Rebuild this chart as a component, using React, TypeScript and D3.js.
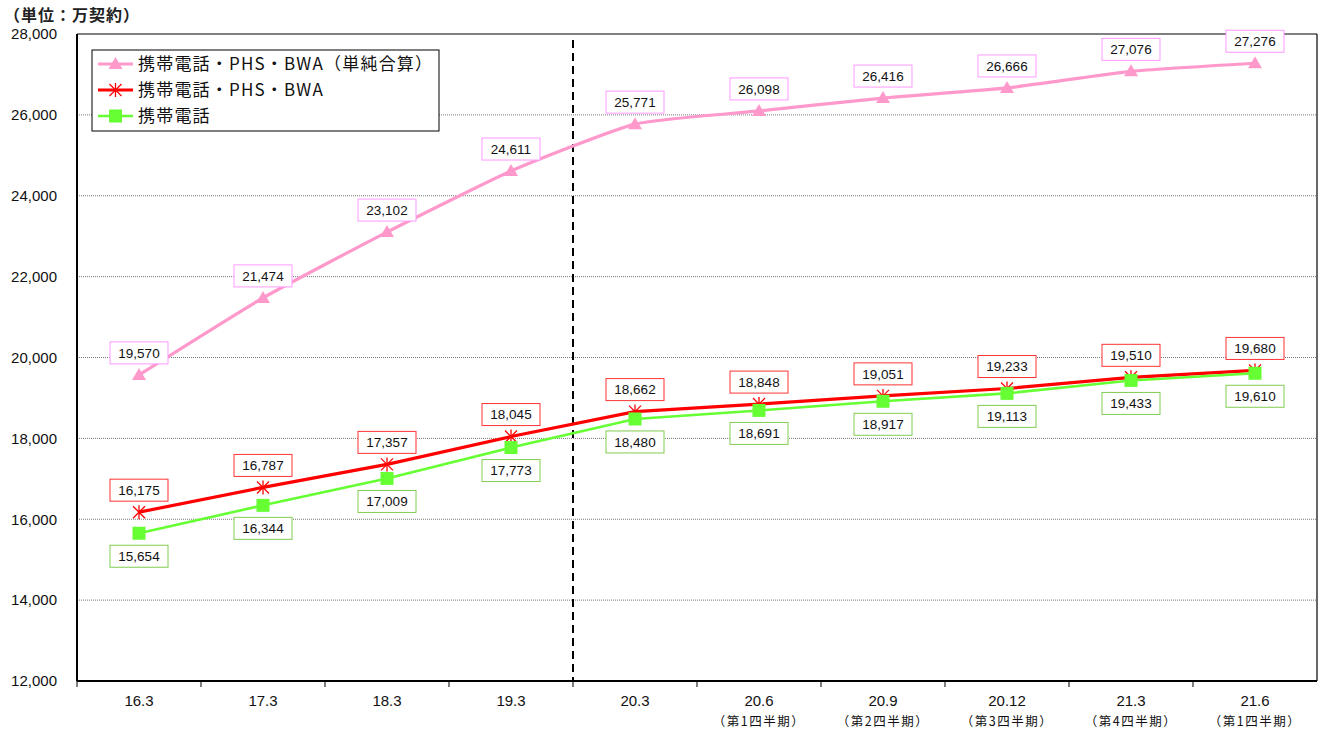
import React from 'react';
import * as d3 from 'd3';

const categories = ['16.3', '17.3', '18.3', '19.3', '20.3', '20.6', '20.9', '20.12', '21.3', '21.6'];
const subLabels = ['', '', '', '', '', '（第1四半期）', '（第2四半期）', '（第3四半期）', '（第4四半期）', '（第1四半期）'];
const simpleSum = [19570, 21474, 23102, 24611, 25771, 26098, 26416, 26666, 27076, 27276];
const mobilePhsBwa = [16175, 16787, 17357, 18045, 18662, 18848, 19051, 19233, 19510, 19680];
const mobile = [15654, 16344, 17009, 17773, 18480, 18691, 18917, 19113, 19433, 19610];
const yTicks = [12000, 14000, 16000, 18000, 20000, 22000, 24000, 26000, 28000];
const seriesNames = ['携帯電話・PHS・BWA（単純合算）', '携帯電話・PHS・BWA', '携帯電話'];

const FONT = '"Liberation Sans", Arial, "Noto Sans CJK JP", sans-serif';
const JP = '"Noto Sans CJK JP", "Liberation Sans", sans-serif';

const App = () => {
    const width = 1320
    const height = 731
    const margins = {top: 34, right: 3, bottom: 50, left: 77}
    const innerWidth = width - margins.left - margins.right
    const innerHeight = height - margins.top - margins.bottom

    const xScale = d3.scaleBand().domain(categories).range([0, innerWidth]).padding(0)
    const cx = (c: string) => (xScale(c) as number) + xScale.bandwidth() / 2
    const yScale = d3.scaleLinear().domain([12000, 28000]).range([innerHeight, 0])
    const fmt = d3.format(',')

    const smooth = d3.line<number>().x((d, i) => cx(categories[i])).y(d => yScale(d)).curve(d3.curveCardinal.tension(0.5))
    const straight = d3.line<number>().x((d, i) => cx(categories[i])).y(d => yScale(d))

    const series = [
        {name: seriesNames[0], data: simpleSum, color: '#ff99cc', border: '#ff99ff', path: smooth, width: 3.2, marker: 'tri', labelDy: -22},
        {name: seriesNames[1], data: mobilePhsBwa, color: '#ff0000', border: '#ff3333', path: straight, width: 3.2, marker: 'star', labelDy: -22},
        {name: seriesNames[2], data: mobile, color: '#66ff33', border: '#80cc50', path: straight, width: 2.6, marker: 'sq', labelDy: 23},
    ]

    const marker = (type: string, x: number, y: number, color: string, key: any) => {
        if (type === 'tri') {
            return <path key={key} d={`M${x},${y - 7}L${x + 7},${y + 5}L${x - 7},${y + 5}Z`} fill={color}/>
        }
        if (type === 'sq') {
            return <rect key={key} x={x - 6.5} y={y - 6.5} width={13} height={13} fill={color}/>
        }
        const r = 6
        return (
            <g key={key} stroke={color} strokeWidth={1.3}>
                <line x1={x - r} y1={y - r} x2={x + r} y2={y + r}/>
                <line x1={x - r} y1={y + r} x2={x + r} y2={y - r}/>
                <line x1={x} y1={y - r - 1} x2={x} y2={y + r + 1}/>
            </g>
        )
    }

    const splitX = xScale('20.3') as number

    return (
        <svg width={width} height={height} style={{position: 'absolute', left: 0, top: 0, background: '#fff'}}>
            <text x={4} y={21} fontFamily={JP} fontWeight="bold" fontSize={16} letterSpacing={1} fill="#222">（単位：万契約）</text>
            <g transform={`translate(${margins.left}, ${margins.top})`}>
                {yTicks.map(t => (
                    <g key={t}>
                        {t !== 12000 && t !== 28000 && (
                            <line x1={0} x2={innerWidth} y1={yScale(t)} y2={yScale(t)} stroke="#555" strokeWidth={0.8} strokeDasharray="1,1"/>
                        )}
                        <text x={-20} y={yScale(t)} dy="0.35em" textAnchor="end" fontFamily={FONT} fontSize={15} fill="#111">{fmt(t)}</text>
                    </g>
                ))}
                <line x1={0} x2={innerWidth} y1={0} y2={0} stroke="#000" strokeWidth={1.2}/>
                <line x1={innerWidth} x2={innerWidth} y1={0} y2={innerHeight} stroke="#000" strokeWidth={1.2}/>
                <line x1={0} x2={0} y1={0} y2={innerHeight} stroke="#000" strokeWidth={2}/>
                <line x1={0} x2={innerWidth} y1={innerHeight} y2={innerHeight} stroke="#000" strokeWidth={2}/>
                {categories.map((c, i) => (
                    <g key={c}>
                        <line x1={xScale(c) as number} x2={xScale(c) as number} y1={innerHeight} y2={innerHeight + 6} stroke="#000" strokeWidth={1}/>
                        <text x={cx(c)} y={innerHeight + 25} textAnchor="middle" fontFamily={FONT} fontSize={15} fill="#111">{c}</text>
                        {subLabels[i] && (
                            <text x={cx(c)} y={innerHeight + 45} textAnchor="middle" fontFamily={JP} fontSize={12.5} letterSpacing={1.5} fill="#111">{subLabels[i]}</text>
                        )}
                    </g>
                ))}
                <line x1={splitX} x2={splitX} y1={6} y2={innerHeight} stroke="#000" strokeWidth={2} strokeDasharray="8,5"/>

                {series.map(s => (
                    <g key={s.name}>
                        <path d={s.path(s.data) as string} fill="none" stroke={s.color} strokeWidth={s.width}/>
                        {s.data.map((v, i) => marker(s.marker, cx(categories[i]), yScale(v), s.color, i))}
                    </g>
                ))}
                {series.map(s => (
                    <g key={s.name + 'l'}>
                        {s.data.map((v, i) => {
                            const x = cx(categories[i])
                            const y = yScale(v) + s.labelDy
                            return (
                                <g key={i}>
                                    <rect x={x - 29} y={y - 11} width={58} height={22} fill="#fff" stroke={s.border} strokeWidth={1}/>
                                    <text x={x} y={y} dy="0.36em" textAnchor="middle" fontFamily={FONT} fontSize={13.5} fill="#111">{fmt(v)}</text>
                                </g>
                            )
                        })}
                    </g>
                ))}

                <g transform={`translate(15, 16)`}>
                    <rect x={0} y={0} width={347} height={81} fill="#fff" stroke="#000" strokeWidth={1}/>
                    {series.map((s, i) => (
                        <g key={s.name} transform={`translate(0, ${14 + i * 26})`}>
                            <line x1={6} x2={41} y1={0} y2={0} stroke={s.color} strokeWidth={s.width}/>
                            {marker(s.marker, 23.5, 0, s.color, 'm')}
                            <text x={46} y={0} dy="0.36em" fontFamily={JP} fontSize={17} letterSpacing={1.2} fill="#111">{s.name}</text>
                        </g>
                    ))}
                </g>
            </g>
        </svg>
    );
};

export default App;
